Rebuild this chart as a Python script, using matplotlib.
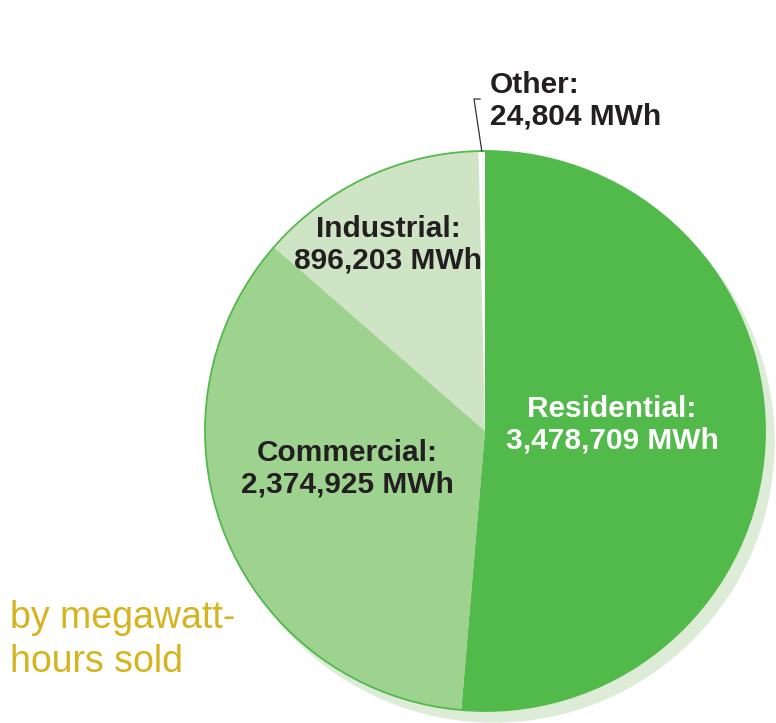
import numpy as np
import matplotlib
matplotlib.use("Agg")
from matplotlib import pyplot as plt
from matplotlib import font_manager
from matplotlib.patches import Circle

# electricity sales by customer class (MWh)
categories = ["Residential", "Commercial", "Industrial", "Other"]
mwh_sold = [3478709, 2374925, 896203, 24804]
slice_colors = ["#52b94b", "#9dd28f", "#cee4c5", "#ffffff"]
label_colors = ["#ffffff", "#231f20", "#231f20", "#231f20"]

W, H = 776, 723
fig = plt.figure(figsize=(W / 100, H / 100), dpi=100)
ax = fig.add_axes([0, 0, 1, 1])

cx, cy, r = 485, H - 431, 280

# soft drop shadow behind the pie
ax.add_patch(Circle((cx + 9, cy - 11), r, color="#ddecd6", zorder=0))

wedges, _ = ax.pie(mwh_sold, colors=slice_colors, startangle=90, counterclock=False,
                   center=(cx, cy), radius=r, wedgeprops=dict(linewidth=0))
for w in wedges:
    w.set_zorder(1)
ax.add_patch(Circle((cx, cy), r, fill=False, edgecolor="#52b94b", lw=1.3, zorder=2))

bold = dict(family=["Liberation Sans", "DejaVu Sans"], fontweight="bold", fontsize=21.5,
            linespacing=1.15, zorder=3)

# label positions (pixel coords, y from top)
label_xy = {"Residential": (612, 425), "Commercial": (347, 469), "Industrial": (388, 245)}
for name, val, col in zip(categories, mwh_sold, label_colors):
    if name in label_xy:
        x, y = label_xy[name]
        ax.text(x, H - y, f"{name}:\n{val:,} MWh", color=col, ha="center", va="center",
                multialignment="center", **bold)

# "Other" sits outside with a leader line
other = wedges[3]
ang = np.deg2rad((other.theta1 + other.theta2) / 2)
x0, y0 = cx + r * np.cos(ang), cy + r * np.sin(ang)
ax.plot([x0, 474, 480], [y0, H - 99, H - 99], color="#333333", lw=0.9, zorder=3)
ax.text(490, H - 101, f"{categories[3]}:\n{mwh_sold[3]:,} MWh", color=label_colors[3],
        ha="left", va="center", **bold)

# condensed face for the caption if one is around
names = {f.name for f in font_manager.fontManager.ttflist}
if "Liberation Sans Narrow" in names:
    cap_font, cap_size = "Liberation Sans Narrow", 31
elif "DejaVu Sans Condensed" in names:
    cap_font, cap_size = "DejaVu Sans Condensed", 26
else:
    cap_font, cap_size = "Liberation Sans", 27
ax.text(10, H - 640, "by megawatt-\nhours sold", color="#d5b41f", ha="left", va="center",
        family=[cap_font, "DejaVu Sans"], fontsize=cap_size, linespacing=1.3)

ax.set_xlim(0, W)
ax.set_ylim(0, H)
ax.set_aspect("equal")
ax.axis("off")

fig.savefig("out.png", dpi=100)
